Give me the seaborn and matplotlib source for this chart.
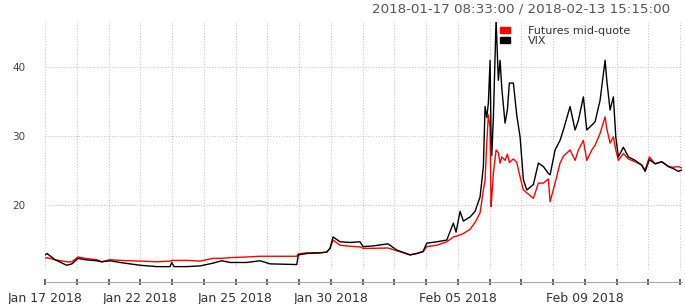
import matplotlib
matplotlib.use("Agg")
import matplotlib.pyplot as plt
import matplotlib.patches as mpatches
import seaborn as sns
import pandas as pd

# ---- data (x = trading-session position, in trading days since 2018-01-17 08:33) ----
session_pos = [0.000, 0.063, 0.315, 0.683, 0.850, 1.039, 1.260, 1.628, 1.786, 2.047,
               2.362, 2.677, 2.992, 3.518, 3.937, 3.991, 4.063, 4.463, 4.882, 5.291,
               5.565, 5.827, 6.353, 6.772, 7.087, 7.928, 7.978, 8.243, 8.661, 8.872,
               8.976, 9.071, 9.291, 9.606, 9.921, 10.016, 10.331, 10.803, 11.077, 11.496,
               11.707, 11.906, 12.022, 12.337, 12.652, 12.860, 12.945, 13.071, 13.175, 13.386,
               13.543, 13.701, 13.805, 13.858, 13.912, 13.962, 14.016, 14.047, 14.069, 14.120,
               14.205, 14.277, 14.331, 14.384, 14.488, 14.561, 14.624, 14.750, 14.857, 14.961,
               15.065, 15.172, 15.380, 15.537, 15.695, 15.852, 15.906, 16.063, 16.220, 16.324,
               16.535, 16.693, 16.797, 16.954, 17.061, 17.219, 17.323, 17.480, 17.638, 17.691,
               17.795, 17.899, 17.975, 18.057, 18.214, 18.372, 18.583, 18.794, 18.898, 19.033,
               19.213, 19.424, 19.632, 19.789, 19.946, 20.050]

vix = [12.7, 12.9, 12.0, 11.2, 11.4, 12.2, 12.0, 11.85, 11.7, 11.85,
       11.6, 11.4, 11.2, 11.0, 11.0, 11.6, 11.0, 11.0, 11.1, 11.5,
       11.85, 11.6, 11.6, 11.85, 11.4, 11.3, 12.7, 12.9, 13.0, 13.1,
       13.65, 15.3, 14.6, 14.5, 14.6, 13.9, 14.0, 14.3, 13.4, 12.7,
       12.9, 13.2, 14.4, 14.6, 14.85, 17.3, 16.0, 19.0, 17.6, 18.2,
       19.0, 21.1, 25.5, 34.2, 32.6, 34.7, 40.9, 30.0, 27.1, 32.6,
       46.7, 38.0, 40.9, 36.9, 31.8, 33.7, 37.6, 37.6, 32.9, 29.8,
       23.6, 22.1, 22.9, 26.0, 25.5, 24.5, 24.3, 27.9, 29.3, 30.8,
       34.2, 30.8, 32.2, 35.6, 30.8, 31.5, 32.0, 35.1, 40.9, 38.0,
       33.7, 35.6, 29.8, 26.9, 28.3, 26.9, 26.4, 25.7, 24.8, 26.5,
       25.9, 26.2, 25.5, 25.2, 24.8, 25.0]

futures = [12.2, 12.3, 12.0, 11.7, 11.7, 12.4, 12.2, 12.0, 11.7, 12.0,
           11.9, 11.85, 11.8, 11.7, 11.8, 11.9, 11.9, 11.9, 11.8, 12.2,
           12.2, 12.3, 12.4, 12.5, 12.5, 12.5, 12.85, 13.0, 13.0, 13.1,
           13.65, 14.85, 14.1, 13.95, 13.85, 13.65, 13.65, 13.7, 13.3, 12.7,
           12.9, 13.15, 13.9, 14.1, 14.6, 15.3, 15.4, 15.6, 15.8, 16.4,
           17.4, 18.8, 22.1, 23.5, 28.9, 33.0, 31.2, 19.7, 21.0, 24.5,
           27.9, 27.5, 26.0, 26.9, 26.4, 27.3, 26.1, 26.6, 26.1, 24.0,
           22.1, 21.7, 20.9, 23.1, 23.1, 23.7, 20.4, 23.1, 26.0, 27.0,
           27.9, 26.4, 27.9, 29.3, 26.4, 27.9, 28.6, 30.3, 32.7, 31.0,
           28.9, 29.8, 27.9, 26.4, 27.4, 26.6, 26.2, 25.7, 25.0, 26.9,
           25.9, 26.2, 25.5, 25.4, 25.5, 25.3]

trading_days = ["Jan 17 2018", "Jan 18 2018", "Jan 19 2018", "Jan 22 2018", "Jan 23 2018",
                "Jan 24 2018", "Jan 25 2018", "Jan 26 2018", "Jan 29 2018", "Jan 30 2018",
                "Jan 31 2018", "Feb 01 2018", "Feb 02 2018", "Feb 05 2018", "Feb 06 2018",
                "Feb 07 2018", "Feb 08 2018", "Feb 09 2018", "Feb 12 2018", "Feb 13 2018", ""]
shown_labels = ["Jan 17 2018", "Jan 22 2018", "Jan 25 2018", "Jan 30 2018",
                "Feb 05 2018", "Feb 09 2018"]
y_ticks = [20, 30, 40]
series_names = ["Futures mid-quote", "VIX"]
title_text = "2018-01-17 08:33:00 / 2018-02-13 15:15:00"

df = pd.DataFrame({"pos": session_pos * 2,
                   "value": futures + vix,
                   "series": [series_names[0]] * len(futures) + [series_names[1]] * len(vix)})

sns.set_style("white")
plt.rcParams["font.family"] = ["DejaVu Sans"]

fig = plt.figure(figsize=(6.85, 3.04), dpi=100)
ax = fig.add_axes([45 / 685, 1 - 270 / 304, 637 / 685, 248 / 304])

colors = {"Futures mid-quote": "#ff0000", "VIX": "#000000"}
sns.lineplot(data=df, x="pos", y="value", hue="series", hue_order=series_names,
             palette=colors, linewidth=1.0, ax=ax, legend=False, sort=False,
             estimator=None)

ax.set_xlim(0, 20.06)
ax.set_ylim(10.51, 46.45)

tick_pos = list(range(len(trading_days)))
ax.set_xticks(tick_pos)
ax.set_xticklabels([d if d in shown_labels else "" for d in trading_days])
ax.set_yticks(y_ticks)
ax.set_yticklabels([str(v) for v in y_ticks])
ax.set_xlabel("")
ax.set_ylabel("")

grid_kw = dict(color="#c8c8c8", linestyle=(0, (1, 1.5)), linewidth=0.8)
ax.grid(True, axis="both", **grid_kw)

for s in ["top", "right", "left"]:
    ax.spines[s].set_visible(False)
ax.spines["bottom"].set_position(("outward", 8.6))
ax.spines["bottom"].set_color("#aaaaaa")
ax.spines["bottom"].set_linewidth(0.8)

ax.tick_params(axis="x", bottom=True, direction="inout", length=5, width=1.2,
               color="#444444", labelsize=9, labelcolor="#333333", pad=5)
ax.tick_params(axis="y", left=False, length=0, labelsize=7.5, labelcolor="#444444", pad=14)

fig.text(670 / 685, 1 - 9 / 304, title_text, ha="right", va="center",
         fontsize=9.7, color="#555555")

handles = [mpatches.Patch(facecolor=colors[n], edgecolor=colors[n]) for n in series_names]
leg = ax.legend(handles, series_names, loc="upper left",
                bbox_to_anchor=(500 / 685, 1 - 26 / 304), bbox_transform=fig.transFigure,
                frameon=False, fontsize=8, handlelength=0.9, handleheight=0.55,
                handletextpad=1.6, labelspacing=0.0, borderpad=0, borderaxespad=0)
for t in leg.get_texts():
    t.set_color("#333333")

fig.savefig("out.png", dpi=100)
